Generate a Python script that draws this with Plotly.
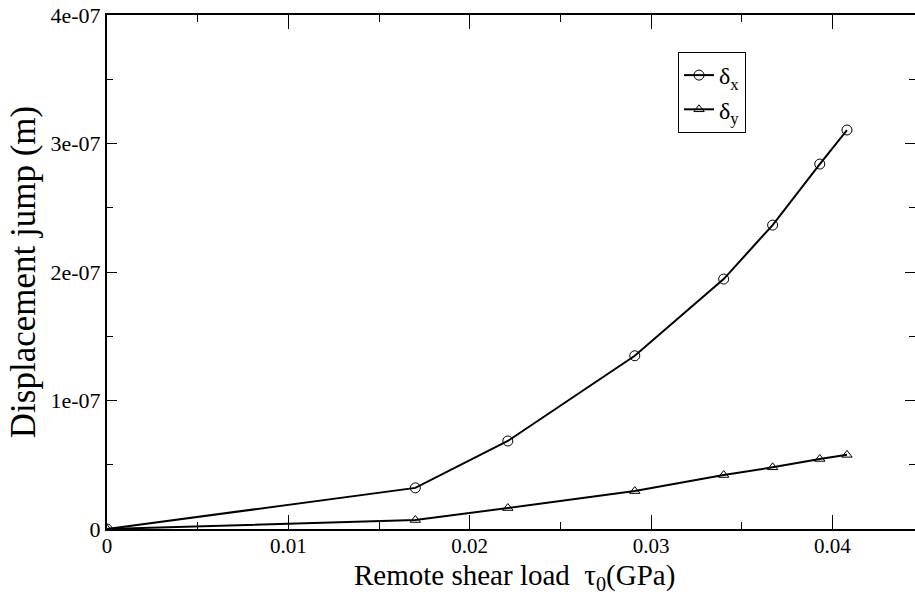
import plotly.graph_objects as go

tau = [0.0, 0.0170, 0.0221, 0.0291, 0.0340, 0.0367, 0.0393, 0.0408]
delta_x = [0.0, 3.2e-08, 6.85e-08, 1.348e-07, 1.945e-07, 2.365e-07, 2.84e-07, 3.105e-07]
delta_y = [0.0, 7.0e-09, 1.63e-08, 2.95e-08, 4.2e-08, 4.8e-08, 5.45e-08, 5.77e-08]

y_tickvals = [0, 1e-07, 2e-07, 3e-07, 4e-07]
y_ticktext = ["0", "1e-07", "2e-07", "3e-07", "4e-07"]
x_tickvals = [0, 0.01, 0.02, 0.03, 0.04]
x_ticktext = ["0", "0.01", "0.02", "0.03", "0.04"]
x_title = "Remote shear load  τ<sub>0</sub>(GPa)"
y_title = "Displacement jump (m)"

FONT = "Liberation Serif"
XR = [0, 0.04455]
YR = [0, 4e-07]

fig = go.Figure()
fig.add_trace(go.Scatter(
    x=tau, y=delta_x, mode="lines+markers", name="δ<sub>x</sub>",
    line=dict(color="black", width=2),
    marker=dict(symbol="circle-open", size=10, color="black", line=dict(width=1)),
))
fig.add_trace(go.Scatter(
    x=tau, y=delta_y, mode="lines+markers", name="δ<sub>y</sub>",
    line=dict(color="black", width=2),
    marker=dict(symbol="triangle-up-open", size=9, color="black", line=dict(width=1)),
))
# invisible trace for right-side ticks
fig.add_trace(go.Scatter(x=[0], y=[0], yaxis="y2", mode="markers",
                         marker=dict(opacity=0), showlegend=False, hoverinfo="skip"))

fig.update_layout(
    width=915, height=595,
    margin=dict(l=107, r=0, t=15, b=66),
    paper_bgcolor="white", plot_bgcolor="white",
    font=dict(family=FONT, color="black", size=22),
    xaxis=dict(
        range=XR, showgrid=False, zeroline=False,
        showline=True, linecolor="black", linewidth=2, mirror="ticks",
        ticks="inside", ticklen=14, tickwidth=1, tickcolor="black",
        tickvals=x_tickvals, ticktext=x_ticktext, ticklabelstandoff=-3,
        tickfont=dict(size=21, family=FONT),
        minor=dict(dtick=0.005, ticks="inside", ticklen=7, tickcolor="black", tickwidth=1, showgrid=False),
    ),
    yaxis=dict(
        range=YR, showgrid=False, zeroline=False,
        showline=True, linecolor="black", linewidth=2, mirror=False,
        ticks="inside", ticklen=10, tickwidth=1, tickcolor="black",
        tickvals=y_tickvals, ticktext=y_ticktext,
        tickfont=dict(size=22, family=FONT),
        minor=dict(dtick=0.5e-07, ticks="inside", ticklen=6, tickcolor="black", tickwidth=1, showgrid=False),
        title=dict(text=y_title, font=dict(size=35, family=FONT), standoff=4),
    ),
    yaxis2=dict(
        range=YR, overlaying="y", side="right", showgrid=False, zeroline=False,
        showline=False, ticks="inside", ticklen=10, tickwidth=1, tickcolor="black",
        tickvals=y_tickvals, showticklabels=False,
        minor=dict(dtick=0.5e-07, ticks="inside", ticklen=6, tickcolor="black", tickwidth=1, showgrid=False),
    ),
    legend=dict(
        x=0.7067, y=0.928, xanchor="left", yanchor="top",
        bordercolor="black", borderwidth=1, bgcolor="white",
        font=dict(size=24, family=FONT), itemwidth=30, tracegroupgap=0,
    ),
    showlegend=True,
    annotations=[dict(
        text=x_title, xref="paper", yref="paper", x=0.504, y=-0.0545,
        xanchor="center", yanchor="top", showarrow=False,
        font=dict(size=29, family=FONT, color="black"),
    )],
)

fig.write_html("out.html")
